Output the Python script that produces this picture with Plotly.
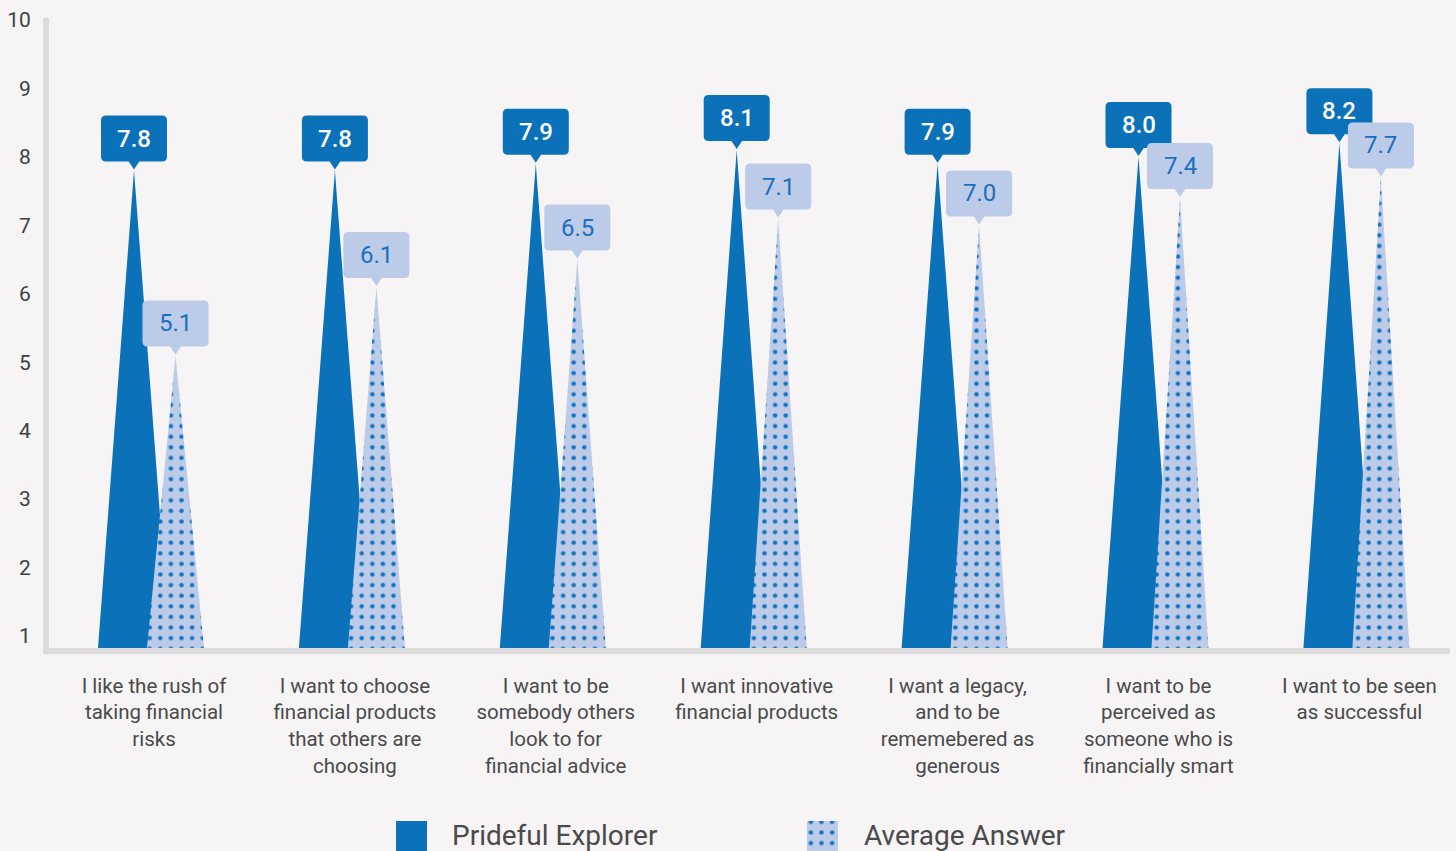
import plotly.graph_objects as go

categories = [
    "I like the rush of<br>taking financial<br>risks",
    "I want to choose<br>financial products<br>that others are<br>choosing",
    "I want to be<br>somebody others<br>look to for<br>financial advice",
    "I want innovative<br>financial products",
    "I want a legacy,<br>and to be<br>rememebered as<br>generous",
    "I want to be<br>perceived as<br>someone who is<br>financially smart",
    "I want to be seen<br>as successful",
]
prideful = [7.8, 7.8, 7.9, 8.1, 7.9, 8.0, 8.2]
average = [5.1, 6.1, 6.5, 7.1, 7.0, 7.4, 7.7]
y_ticks = [1, 2, 3, 4, 5, 6, 7, 8, 9, 10]
series_names = ["Prideful Explorer", "Average Answer"]

W, H = 1456, 851
BG = "#f6f4f5"
DARK = "#0b71b9"
LIGHT = "#bccbe8"
DOT = "#1273c0"
AXIS = "#dcdcdc"
TXT = "#4a4a4a"
FONT = "Roboto"

Y_MIN, Y_MAX = 0.825, 10.03
X_MIN, X_MAX = -0.5227, 6.451
PX_PER_X = 200.9

dark_off, dark_half = -20 / PX_PER_X, 36 / PX_PER_X
light_off, light_half = 21.5 / PX_PER_X, 28.5 / PX_PER_X


def tri_coords(values, off, half):
    xs, ys = [], []
    for i, v in enumerate(values):
        c = i + off
        xs += [c - half, c, c + half, c - half, None]
        ys += [Y_MIN, v, Y_MIN, Y_MIN, None]
    return xs, ys


PATTERN = dict(shape=".", fgcolor=DOT, bgcolor=LIGHT, size=10.6,
               solidity=0.14, fillmode="replace")

fig = go.Figure()

xd, yd = tri_coords(prideful, dark_off, dark_half)
fig.add_trace(go.Scatter(
    x=xd, y=yd, mode="lines", fill="toself", fillcolor=DARK,
    line=dict(width=0, color=DARK), name=series_names[0], showlegend=False,
    hoverinfo="skip",
))
xl, yl = tri_coords(average, light_off, light_half)
fig.add_trace(go.Scatter(
    x=xl, y=yl, mode="lines", fill="toself", fillcolor=LIGHT,
    fillpattern=PATTERN,
    line=dict(width=0, color=LIGHT), name=series_names[1], showlegend=False,
    hoverinfo="skip",
))

# legend swatches drawn in a small pixel-unit axis at the bottom strip
LEG_TOP = 806
fig.add_trace(go.Scatter(
    x=[396, 427, 427, 396, 396], y=[821, 821, 870, 870, 821],
    xaxis="x2", yaxis="y2", mode="lines", fill="toself", fillcolor=DARK,
    line=dict(width=0), showlegend=False, hoverinfo="skip",
))
fig.add_trace(go.Scatter(
    x=[807, 838, 838, 807, 807], y=[821, 821, 870, 870, 821],
    xaxis="x2", yaxis="y2", mode="lines", fill="toself", fillcolor=LIGHT,
    fillpattern=PATTERN,
    line=dict(width=0), showlegend=False, hoverinfo="skip",
))

callout = ("M 0,1 L 5.3,9 L 28,9 Q 33,9 33,14 L 33,50 Q 33,55 28,55 "
           "L -28,55 Q -33,55 -33,50 L -33,14 Q -33,9 -28,9 L -5.3,9 Z")

shapes = []
annotations = []
for i, (p, a) in enumerate(zip(prideful, average)):
    for v, off, fill, tcol, wt in [
        (p, dark_off, DARK, "#ffffff", 500),
        (a, light_off, LIGHT, "#1a6fbf", 400),
    ]:
        shapes.append(dict(
            type="path", xref="x", yref="y", xsizemode="pixel", ysizemode="pixel",
            xanchor=i + off, yanchor=v, path=callout,
            fillcolor=fill, line=dict(width=0), layer="above",
        ))
        annotations.append(dict(
            x=i + off, y=v, xref="x", yref="y", text=f"{v:.1f}",
            showarrow=False, yshift=32, xanchor="center", yanchor="middle",
            font=dict(family=FONT, size=24, color=tcol, weight=wt),
        ))

annotations.append(dict(
    x=450 / W, y=(851 - 835) / H, xref="paper", yref="paper", text=series_names[0],
    showarrow=False, xanchor="left", yanchor="middle",
    font=dict(family=FONT, size=28, color=TXT),
))
annotations.append(dict(
    x=862 / W, y=(851 - 835) / H, xref="paper", yref="paper", text=series_names[1],
    showarrow=False, xanchor="left", yanchor="middle",
    font=dict(family=FONT, size=28, color=TXT),
))

fig.update_layout(
    width=W, height=H,
    margin=dict(l=0, r=0, t=0, b=0, pad=0, autoexpand=False),
    paper_bgcolor=BG, plot_bgcolor=BG,
    showlegend=False,
    font=dict(family=FONT, color=TXT),
    xaxis=dict(
        domain=[49 / W, 1450 / W], range=[X_MIN, X_MAX], automargin=False,
        tickmode="array", tickvals=list(range(len(categories))), ticktext=categories,
        showgrid=False, zeroline=False, showline=True, linecolor=AXIS, linewidth=6,
        ticks="", tickfont=dict(family=FONT, size=20.5, color=TXT),
        ticklabelstandoff=14, fixedrange=True,
    ),
    yaxis=dict(
        domain=[(H - 648) / H, (H - 18) / H], range=[Y_MIN, Y_MAX], automargin=False,
        tickmode="array", tickvals=y_ticks,
        showgrid=False, zeroline=False, showline=True, linecolor=AXIS, linewidth=6,
        ticks="", tickfont=dict(family=FONT, size=21, color="#404040"),
        ticklabelstandoff=8, fixedrange=True,
    ),
    xaxis2=dict(domain=[0, 1], range=[0, W], visible=False, anchor="y2",
                automargin=False, fixedrange=True),
    yaxis2=dict(domain=[0, (H - LEG_TOP) / H], range=[H, LEG_TOP], visible=False,
                anchor="x2", automargin=False, fixedrange=True),
    shapes=shapes,
    annotations=annotations,
)

fig.write_html("out.html", config={"displayModeBar": False},
               post_script="document.body.style.margin='0';")
